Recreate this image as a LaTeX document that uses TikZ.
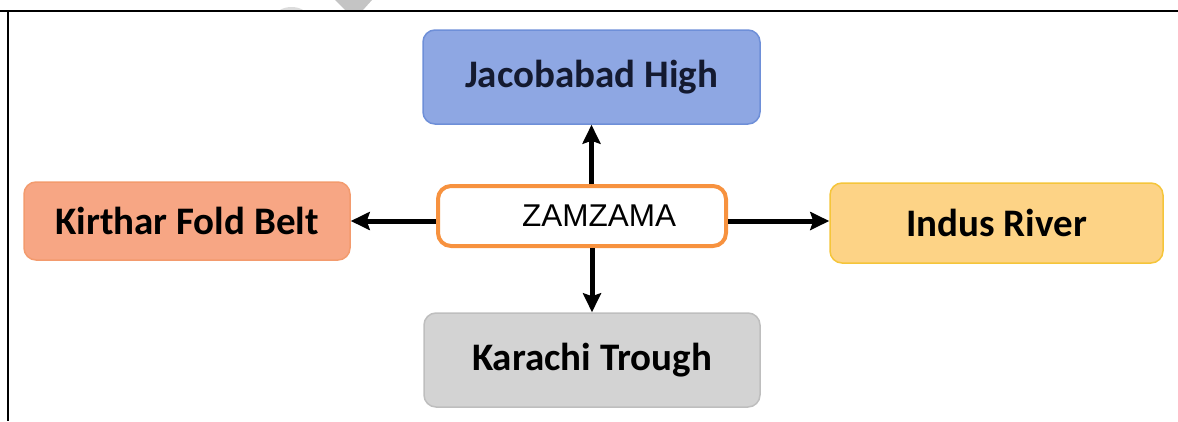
\documentclass[tikz,border=0pt]{standalone}
\usepackage{fontspec}
\setmainfont{Carlito}
\newfontfamily\arialfont{Liberation Sans}
\usetikzlibrary{arrows.meta}
\definecolor{jacfill}{HTML}{8EA7E3}
\definecolor{jacdraw}{HTML}{6E8FD8}
\definecolor{kirfill}{HTML}{F7A684}
\definecolor{kirdraw}{HTML}{F39B6E}
\definecolor{indfill}{HTML}{FDD386}
\definecolor{inddraw}{HTML}{F5C53A}
\definecolor{karfill}{HTML}{D3D3D3}
\definecolor{kardraw}{HTML}{BEBEBE}
\definecolor{zamdraw}{HTML}{F7923F}
\definecolor{jactext}{HTML}{141A30}
\definecolor{wmgray}{HTML}{C4C4C4}
\tikzset{
  regionbox/.style={rounded corners=12pt, line width=1.5pt, inner sep=0pt,
    font=\fontsize{39}{42}\selectfont\bfseries, align=center},
  centrebox/.style={rounded corners=13pt, line width=4pt, draw=zamdraw, fill=white,
    inner sep=0pt, font=\arialfont\fontsize{31.5}{34}\selectfont},
  arr/.style={line width=5pt, -{Stealth[length=19pt,width=18pt,inset=3pt]}},
  frameline/.style={line width=2pt, black}
}
\begin{document}
\begin{tikzpicture}[x=1pt,y=-1pt]
\useasboundingbox (0,0) rectangle (1178,421);
% watermark fragment
\fill[wmgray] (335,0) -- (372,0) -- (363,10) -- (345,10) -- cycle;
\fill[wmgray!60] (280,10) .. controls (286,6) and (297,6) .. (303,10) -- cycle;
% frame
\draw[frameline] (0,10.5) -- (1178,10.5);
\draw[frameline] (7.5,10.5) -- (7.5,421);
% nodes
\node[regionbox, fill=jacfill, draw=jacdraw, text=jactext, minimum width=337pt, minimum height=94pt] (jac) at (591.5,77) {Jacobabad High};
\node[regionbox, fill=kirfill, draw=kirdraw, text=black, minimum width=326pt, minimum height=78pt] (kir) at (187,221) {Kirthar Fold Belt};
\node[regionbox, fill=indfill, draw=inddraw, text=black, minimum width=333pt, minimum height=80pt] (ind) at (996.5,223) {Indus River};
\node[regionbox, fill=karfill, draw=kardraw, text=black, minimum width=336pt, minimum height=94pt] (kar) at (592,360) {Karachi Trough};
\node[centrebox, minimum width=288pt, minimum height=60pt] (zam) at (582,216) {\hspace*{34pt}ZAMZAMA};
% connectors
\draw[arr] (zam.north -| jac.south) -- (jac.south);
\draw[arr] (zam.south -| kar.north) -- (kar.north);
\draw[arr] (zam.west |- kir.east) -- (kir.east);
\draw[arr] (zam.east |- kir.east) -- (ind.west |- kir.east);
\end{tikzpicture}
\end{document}
